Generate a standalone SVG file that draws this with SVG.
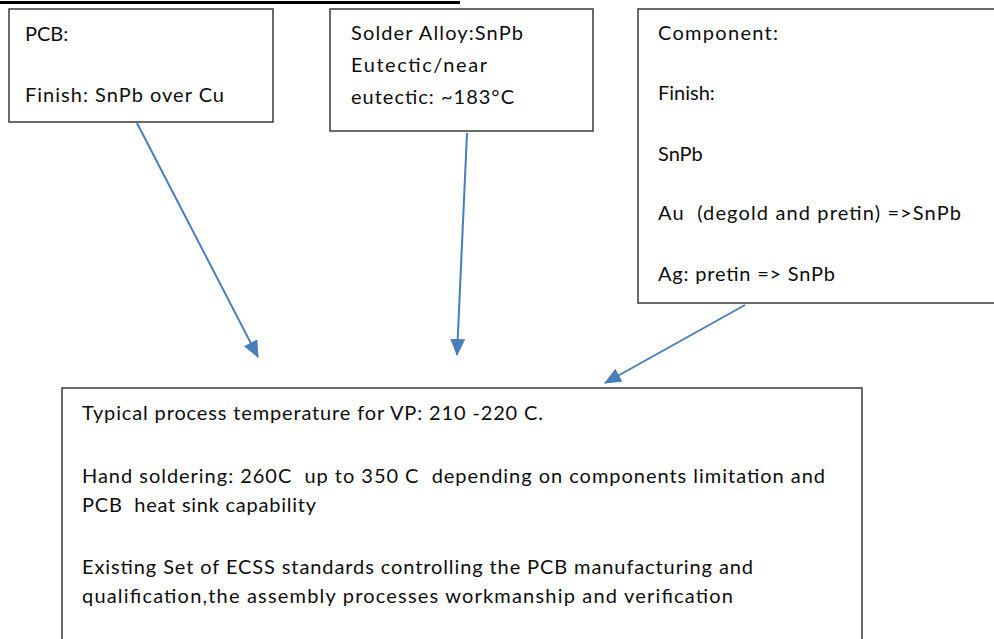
<svg xmlns="http://www.w3.org/2000/svg" width="994" height="639" viewBox="0 0 994 639">
  <style>
    .box { fill: #ffffff; stroke: #3a3a3a; stroke-width: 1.5; }
    .txt { font-family: "Lato", "Liberation Sans", sans-serif; font-size: 20px; fill: #0d0d0d; white-space: pre; }
    .link { stroke: #4a7ebb; stroke-width: 2; fill: none; marker-end: url(#head); }
  </style>
  <defs>
    <marker id="head" markerUnits="userSpaceOnUse" markerWidth="17" markerHeight="15" refX="16" refY="7.5" orient="auto">
      <path d="M0,0 L17,7.5 L0,15 Z" fill="#4a7ebb"/>
    </marker>
  </defs>
  <rect width="994" height="639" fill="#ffffff"/>
  <!-- rule across the top -->
  <rect x="0" y="1" width="460" height="3" fill="#000000"/>

  <g id="pcb">
    <rect class="box" x="9" y="9" width="264" height="113"/>
    <text class="txt" x="25" y="41">PCB:</text>
    <text class="txt" x="25" y="102" textLength="199" lengthAdjust="spacing">Finish: SnPb over Cu</text>
  </g>

  <g id="solder-alloy">
    <rect class="box" x="330" y="9" width="263" height="122"/>
    <text class="txt" x="351" y="40" textLength="172" lengthAdjust="spacing">Solder Alloy:SnPb</text>
    <text class="txt" x="351" y="72" textLength="136" lengthAdjust="spacing">Eutectic/near</text>
    <text class="txt" x="351" y="104" textLength="163" lengthAdjust="spacing">eutectic: ~183°C</text>
  </g>

  <g id="component">
    <rect class="box" x="638" y="9" width="362" height="294"/>
    <text class="txt" x="658" y="40" textLength="120" lengthAdjust="spacing">Component:</text>
    <text class="txt" x="658" y="100">Finish:</text>
    <text class="txt" x="658" y="161">SnPb</text>
    <text class="txt" x="658" y="220" textLength="303" lengthAdjust="spacing">Au  (degold and pretin) =&gt;SnPb</text>
    <text class="txt" x="658" y="281" textLength="177" lengthAdjust="spacing">Ag: pretin =&gt; SnPb</text>
  </g>

  <g id="process">
    <rect class="box" x="62" y="388" width="800" height="260"/>
    <text class="txt" x="82" y="420" textLength="461" lengthAdjust="spacing">Typical process temperature for VP: 210 -220 C.</text>
    <text class="txt" x="82" y="483" textLength="743" lengthAdjust="spacing">Hand soldering: 260C  up to 350 C  depending on components limitation and</text>
    <text class="txt" x="82" y="512" textLength="234" lengthAdjust="spacing">PCB  heat sink capability</text>
    <text class="txt" x="82" y="574" textLength="671" lengthAdjust="spacing">Existing Set of ECSS standards controlling the PCB manufacturing and</text>
    <text class="txt" x="82" y="603" textLength="651" lengthAdjust="spacing">qualification,the assembly processes workmanship and verification</text>
  </g>

  <g id="connectors">
    <line class="link" x1="137" y1="123" x2="258" y2="357"/>
    <line class="link" x1="467" y1="133" x2="457" y2="355"/>
    <line class="link" x1="745" y1="305" x2="605" y2="383"/>
  </g>
</svg>
